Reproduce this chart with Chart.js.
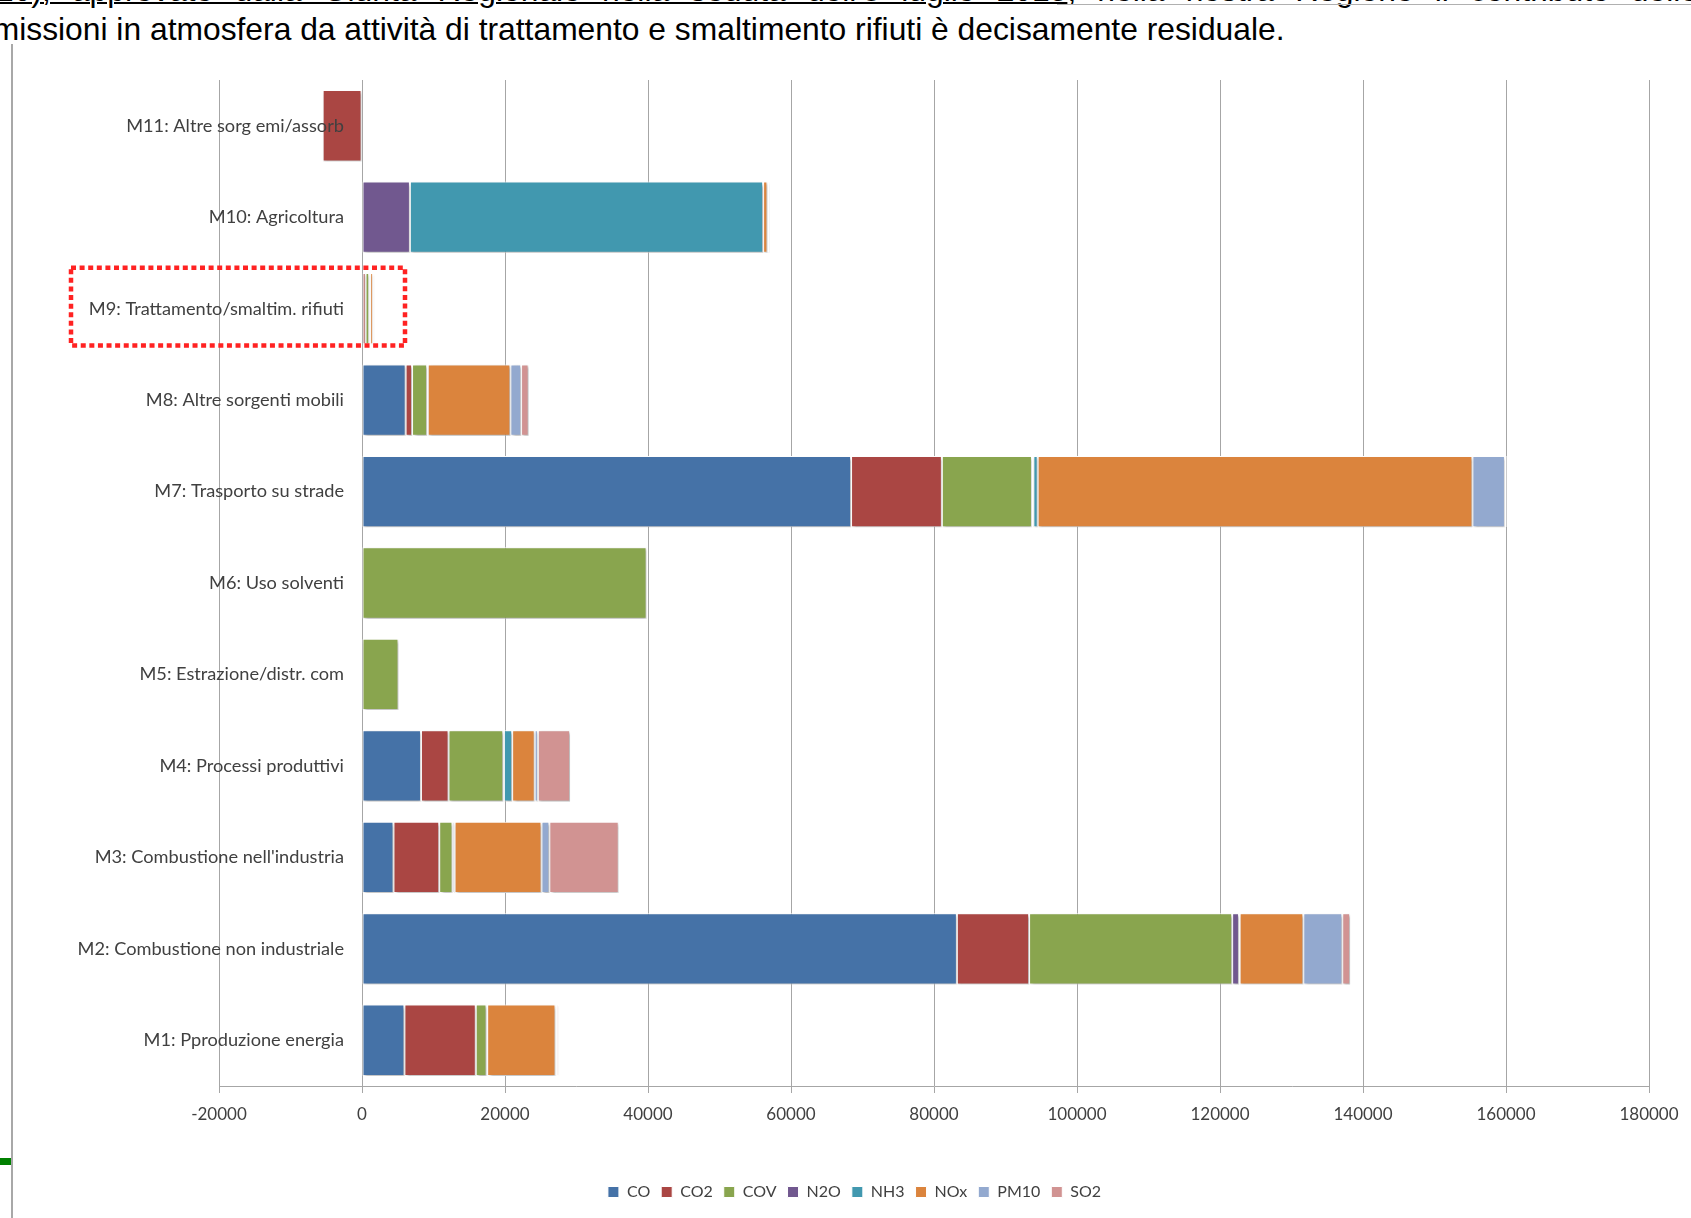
<!DOCTYPE html>
<html>
<head>
<meta charset="utf-8">
<script src="https://cdn.jsdelivr.net/npm/chart.js@4.4.1/dist/chart.umd.min.js"></script>
<style>
html,body{margin:0;padding:0;background:#ffffff;overflow:hidden;}
body{width:1691px;height:1218px;position:relative;}
.t{position:absolute;font-family:"Liberation Sans",Arial,sans-serif;font-size:31.8px;line-height:31.8px;color:#000;}
#l1{left:-4px;top:-24.9px;width:1702px;text-align:justify;text-align-last:justify;white-space:nowrap;}
#l1 u{text-decoration:underline;text-decoration-thickness:2px;}
#l2{left:-25px;top:14.1px;white-space:nowrap;}
#rule{position:absolute;left:1057px;top:4px;width:634px;height:1px;background:#b0b0b0;}
#vline{position:absolute;left:11px;top:44px;width:2px;height:1174px;background:#a8a8a8;}
#mark{position:absolute;left:0;top:1158px;width:11px;height:7px;background:#008000;}
#wrap{position:absolute;left:0;top:0;width:1691px;height:1218px;}
</style>
</head>
<body>
<div class="t" id="l1"><u>20), approvato dalla Giunta Regionale nella seduta dell'8 luglio 2015</u>, nella nostra Regione il contributo delle</div>
<div id="rule"></div>
<div class="t" id="l2">emissioni in atmosfera da attività di trattamento e smaltimento rifiuti è decisamente residuale.</div>
<div id="vline"></div>
<div id="mark"></div>
<div id="wrap"><canvas id="c" width="1691" height="1218"></canvas></div>
<script>
// ---- data ----
const categories = [
  'M1: Pproduzione energia',
  'M2: Combustione non industriale',
  "M3: Combustione nell'industria",
  'M4: Processi produttivi',
  'M5: Estrazione/distr. com',
  'M6: Uso solventi',
  'M7: Trasporto su strade',
  'M8: Altre sorgenti mobili',
  'M9: Trattamento/smaltim. rifiuti',
  'M10: Agricoltura',
  'M11: Altre sorg emi/assorb'
];
const seriesNames = ['CO', 'CO2', 'COV', 'N2O', 'NH3', 'NOx', 'PM10', 'SO2'];
const CO   = [5930, 83200, 4400, 8250, 0, 0, 68400, 6100, 100, 0, 0];
const CO2  = [9980, 10100, 6400, 3850, 0, 0, 12700, 900, 400, 0, -5500];
const COV  = [1500, 28400, 1850, 7650, 5100, 39800, 12600, 2100, 500, 0, 0];
const N2O  = [100, 950, 300, 100, 0, 0, 200, 100, 100, 6700, 0];
const NH3  = [0, 100, 0, 1150, 0, 0, 600, 0, 50, 49400, 0];
const NOx  = [9550, 8900, 12150, 3150, 0, 0, 60800, 11550, 400, 600, 0];
const PM10 = [200, 5450, 1100, 450, 0, 0, 4550, 1500, 150, 250, 0];
const SO2  = [300, 1100, 9700, 4500, 0, 0, 250, 1050, 100, 100, 0];
const xTickValues = [-20000, 0, 20000, 40000, 60000, 80000, 100000, 120000, 140000, 160000, 180000];

const seriesValues = [CO, CO2, COV, N2O, NH3, NOx, PM10, SO2];
const colors = ['#4572A7', '#AA4643', '#89A54E', '#71588F', '#4198AF', '#DB843D', '#93A9CF', '#D19392'];

const shadowPlugin = {
  id: 'barShadow',
  beforeDatasetsDraw(chart) {
    const c = chart.ctx;
    c.save();
    c.shadowColor = 'rgba(0,0,0,0.30)';
    c.shadowBlur = 3;
    c.shadowOffsetX = 1.5;
    c.shadowOffsetY = 2;
  },
  afterDatasetsDraw(chart) { chart.ctx.restore(); }
};

const highlightPlugin = {
  id: 'highlightBox',
  afterDraw(chart) {
    const c = chart.ctx;
    const ys = chart.scales.y, xs = chart.scales.x;
    const idx = categories.indexOf('M9: Trattamento/smaltim. rifiuti');
    const yc = ys.getPixelForValue(idx) - 2;
    const band = Math.abs(ys.getPixelForValue(1) - ys.getPixelForValue(0));
    const h = band * 0.85;
    const left = 71;
    const right = xs.getPixelForValue(0) + 43;
    c.save();
    c.strokeStyle = '#ff2222';
    c.lineWidth = 4.5;
    c.setLineDash([5, 3.6]);
    c.lineCap = 'butt';
    c.strokeRect(left, yc - h / 2, right - left, h);
    c.restore();
  }
};

new Chart(document.getElementById('c'), {
  type: 'bar',
  data: {
    labels: categories,
    datasets: seriesNames.map((n, i) => ({
      label: n,
      data: seriesValues[i],
      backgroundColor: colors[i],
      borderColor: '#ffffff',
      borderWidth: 1,
      borderSkipped: false,
      categoryPercentage: 0.78,
      barPercentage: 1.0
    }))
  },
  options: {
    indexAxis: 'y',
    responsive: false,
    animation: false,
    devicePixelRatio: 1,
    layout: { padding: { left: 60, right: 42, top: 80, bottom: 8 } },
    scales: {
      x: {
        stacked: true,
        min: -20000,
        max: 180000,
        afterBuildTicks(scale) { scale.ticks = xTickValues.map(v => ({ value: v })); },
        afterFit(scale) { scale.height = 87; },
        grid: { color: '#a6a6a6', lineWidth: 1, drawTicks: true, tickLength: 7, tickColor: '#a6a6a6' },
        border: { display: true, color: '#a6a6a6', width: 1 },
        ticks: {
          callback: (v) => String(v),
          font: { family: 'Lato', size: 17 },
          color: '#404040',
          padding: 11,
          maxRotation: 0,
          autoSkip: false
        }
      },
      y: {
        stacked: true,
        reverse: true,
        position: { x: -2520 },
        grid: { display: false, drawTicks: false },
        border: { display: false },
        ticks: {
          z: 1,
          font: { family: 'Lato', size: 18.2 },
          color: '#404040',
          padding: 0,
          autoSkip: false
        }
      },
      ySpace: {
        type: 'category',
        axis: 'y',
        position: 'left',
        display: true,
        afterFit(scale) { scale.width = 159; },
        grid: { display: false, drawTicks: false },
        border: { display: false },
        ticks: { display: false }
      }
    },
    plugins: {
      legend: {
        position: 'bottom',
        labels: {
          boxWidth: 11,
          boxHeight: 11,
          padding: 11,
          font: { family: 'Lato', size: 16 },
          color: '#404040'
        }
      },
      tooltip: { enabled: false }
    }
  },
  plugins: [shadowPlugin, highlightPlugin]
});
</script>
</body>
</html>
